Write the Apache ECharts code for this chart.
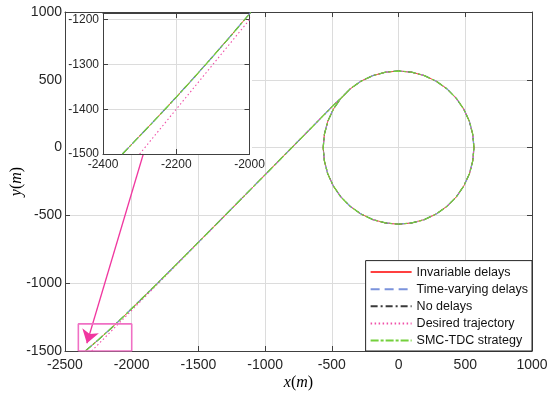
<!DOCTYPE html>
<html><head><meta charset="utf-8">
<script src="https://cdn.jsdelivr.net/npm/echarts@6/dist/echarts.min.js"></script>
<style>html,body{margin:0;padding:0;background:#fff}#c{width:550px;height:398px}</style>
</head><body><div id="c"></div>
<script>
// ---- data ----
const legendNames = ['Invariable delays', 'Time-varying delays', 'No delays', 'Desired trajectory', 'SMC-TDC strategy'];
// approach leg of the actual trajectories
const approachX = [-2347, -2300, -2250, -2200, -2150, -2100, -2050, -2000, -1900, -1800, -1600, -1400, -1000, -480];
const approachY = [-1500, -1460, -1417, -1373, -1328, -1282, -1235, -1187, -1091, -994, -797, -599, -200, 320];
// approach leg of the desired trajectory
const desiredX = [-2300, -480];
const desiredY = [-1500, 320];
// circular leg (clockwise, radius ~565 m)
const circleX = [-433, -363, -283, -193, -98, 0, 98, 193, 283, 363, 433, 489, 531, 556, 565,
  556, 531, 489, 433, 363, 283, 193, 98, 0, -98, -193, -283, -363, -433, -489, -531, -556, -565,
  -556, -531, -489, -433, -363];
const circleY = [363, 433, 489, 531, 556, 565, 556, 531, 489, 433, 363, 283, 193, 98, 0,
  -98, -193, -283, -363, -433, -489, -531, -556, -565, -556, -531, -489, -433, -363, -283, -193, -98, 0,
  98, 193, 283, 363, 433];
// zoom box and arrow (data coordinates)
const zoomBoxX = [-2400, -2400, -2000, -2000, -2400];
const zoomBoxY = [-1500, -1300, -1300, -1500, -1500];
const arrowFrom = [-1913, -47];
const arrowTo = [-2336, -1443];
// axis ranges
const mainX = {min: -2500, max: 1000, interval: 500};
const mainY = {min: -1500, max: 1000, interval: 500};
const insetX = {min: -2400, max: -2000, interval: 200};
const insetY = {min: -1500, max: -1185, interval: 100};

const pts = (xs, ys) => xs.map((x, i) => [x, ys[i]]);
const actual = pts(approachX.concat(circleX), approachY.concat(circleY));
const desired = pts(desiredX.concat(circleX), desiredY.concat(circleY));

const styles = [
  {color: '#ff4040', type: 'solid', width: 1},
  {color: '#7b93dc', type: [9, 5], width: 1.3},
  {color: '#3a3a3a', type: [7, 3, 2, 3], width: 1},
  {color: '#f050a8', type: [1.5, 2.5], width: 1.1},
  {color: '#74d03c', type: [8, 2, 3, 2], width: 1.3}
];

const AX = '#404040', GRID = '#dcdcdc', LBL = '#262626';
function xax(grid, r, pos, labels, fs, margin, z, extra) {
  return Object.assign({
    gridIndex: grid, type: 'value', min: r.min, max: r.max, interval: r.interval, position: pos, z: z,
    axisLine: {show: true, onZero: false, lineStyle: {color: AX, width: 1}},
    axisTick: {show: true, inside: true, length: 5, lineStyle: {color: AX}},
    axisLabel: {show: labels, fontSize: fs, color: LBL, margin: margin, fontFamily: 'Liberation Sans',
      formatter: v => (Math.abs(v % r.interval) < 1e-6 ? String(v) : '')},
    splitLine: {show: labels, lineStyle: {color: GRID, width: 1}}
  }, extra || {});
}
const nameRich = {
  i: {fontFamily: 'Liberation Serif', fontStyle: 'italic', fontSize: 16, color: '#000'},
  p: {fontFamily: 'Liberation Serif', fontSize: 16, color: '#000'}
};

const series = [];
styles.forEach((s, k) => {
  const data = k === 3 ? desired : actual;
  series.push({name: legendNames[k], type: 'line', xAxisIndex: 0, yAxisIndex: 0, data: data,
    symbol: 'none', showSymbol: false, lineStyle: s, itemStyle: {color: s.color}, z: 2, animation: false});
});
styles.forEach((s, k) => {
  const data = k === 3 ? desired : actual;
  series.push({name: legendNames[k], type: 'line', xAxisIndex: 2, yAxisIndex: 2, data: data,
    symbol: 'none', showSymbol: false, lineStyle: s, itemStyle: {color: s.color}, z: 4, animation: false, clip: true});
});
series.push({name: 'zoombox', type: 'line', xAxisIndex: 0, yAxisIndex: 0, data: pts(zoomBoxX, zoomBoxY),
  symbol: 'none', lineStyle: {color: '#f070c4', width: 1.6}, z: 2, animation: false});
series.push({name: 'arrow', type: 'lines', coordinateSystem: 'cartesian2d', xAxisIndex: 0, yAxisIndex: 0,
  data: [{coords: [arrowFrom, arrowTo]}], symbol: ['none', 'arrow'], symbolSize: 13,
  lineStyle: {color: '#f0379f', width: 1.3, opacity: 1, curveness: 0}, z: 2, animation: false});

const chart = echarts.init(document.getElementById('c'), null, {renderer: 'canvas'});
chart.setOption({
  animation: false,
  backgroundColor: '#fff',
  grid: [
    {left: 65, top: 12, width: 467, height: 339, outerBoundsMode: 'none', containLabel: false},
    {left: 103, top: 13, width: 146.5, height: 141, z: 2, outerBoundsMode: 'none', containLabel: false}
  ],
  xAxis: [
    xax(0, mainX, 'bottom', true, 14, 7, 0, {name: '{i|x}{p|(}{i|m}{p|)}', nameLocation: 'middle', nameGap: 24,
      nameMoveOverlap: false, nameTextStyle: {rich: nameRich}}),
    xax(0, mainX, 'top', false, 14, 7, 0),
    xax(1, insetX, 'bottom', true, 12, 5, 3),
    xax(1, insetX, 'top', false, 12, 5, 3)
  ],
  yAxis: [
    xax(0, mainY, 'left', true, 14, 3, 0, {name: '{i|y}{p|(}{i|m}{p|)}', nameLocation: 'middle', nameGap: 40,
      nameMoveOverlap: false, nameTextStyle: {rich: nameRich}}),
    xax(0, mainY, 'right', false, 14, 3, 0),
    xax(1, insetY, 'left', true, 12, 4, 3),
    xax(1, insetY, 'right', false, 12, 4, 3)
  ],
  graphic: [{type: 'rect', shape: {x: 66, y: 13, width: 186, height: 142}, style: {fill: '#fff'}, z: 1}],
  legend: {
    data: legendNames, orient: 'vertical', right: 18, bottom: 47, itemWidth: 41, itemHeight: 12, itemGap: 4.1,
    padding: [5, 4, 4, 4], backgroundColor: '#fff', borderColor: '#262626', borderWidth: 1,
    selectedMode: false, align: 'left', z: 10,
    itemStyle: {opacity: 0},
    textStyle: {fontSize: 12.5, color: '#111', fontFamily: 'Liberation Sans'}
  },
  series: series
});
</script></body></html>
